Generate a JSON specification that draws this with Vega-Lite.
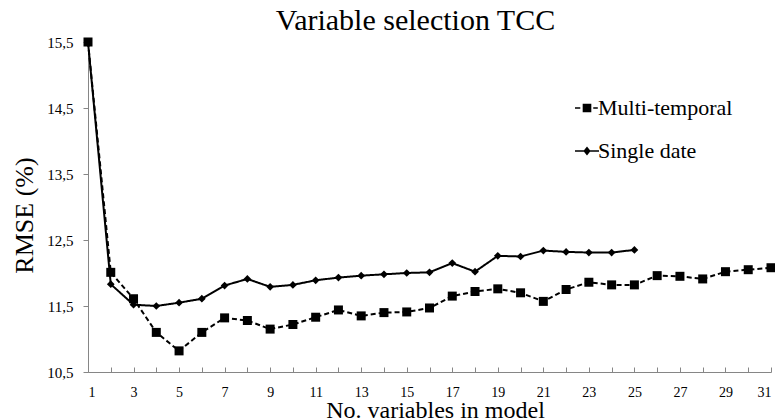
{
  "$schema": "https://vega.github.io/schema/vega-lite/v6.json",
  "width": 683,
  "height": 330,
  "autosize": {"type": "none"},
  "padding": {"left": 88, "top": 42, "right": 4, "bottom": 48},
  "background": "white",
  "title": {"text": "Variable selection TCC", "font": "Liberation Serif", "fontSize": 30, "fontWeight": "normal", "color": "black", "anchor": "middle", "dx": -14, "dy": 8, "offset": 7},
  "config": {
    "view": {"stroke": null},
    "axis": {"grid": false, "labelFont": "Liberation Serif", "titleFont": "Liberation Serif", "labelColor": "black", "titleColor": "black", "domainColor": "#868686", "tickColor": "#868686", "titleFontWeight": "normal"}
  },
  "data": {"values": [
    {"n": 1, "series": "Multi-temporal", "rmse": 15.5},
    {"n": 2, "series": "Multi-temporal", "rmse": 12.01},
    {"n": 3, "series": "Multi-temporal", "rmse": 11.61},
    {"n": 4, "series": "Multi-temporal", "rmse": 11.10},
    {"n": 5, "series": "Multi-temporal", "rmse": 10.82},
    {"n": 6, "series": "Multi-temporal", "rmse": 11.10},
    {"n": 7, "series": "Multi-temporal", "rmse": 11.32},
    {"n": 8, "series": "Multi-temporal", "rmse": 11.28},
    {"n": 9, "series": "Multi-temporal", "rmse": 11.15},
    {"n": 10, "series": "Multi-temporal", "rmse": 11.22},
    {"n": 11, "series": "Multi-temporal", "rmse": 11.33},
    {"n": 12, "series": "Multi-temporal", "rmse": 11.44},
    {"n": 13, "series": "Multi-temporal", "rmse": 11.35},
    {"n": 14, "series": "Multi-temporal", "rmse": 11.40},
    {"n": 15, "series": "Multi-temporal", "rmse": 11.41},
    {"n": 16, "series": "Multi-temporal", "rmse": 11.47},
    {"n": 17, "series": "Multi-temporal", "rmse": 11.65},
    {"n": 18, "series": "Multi-temporal", "rmse": 11.72},
    {"n": 19, "series": "Multi-temporal", "rmse": 11.76},
    {"n": 20, "series": "Multi-temporal", "rmse": 11.70},
    {"n": 21, "series": "Multi-temporal", "rmse": 11.57},
    {"n": 22, "series": "Multi-temporal", "rmse": 11.75},
    {"n": 23, "series": "Multi-temporal", "rmse": 11.86},
    {"n": 24, "series": "Multi-temporal", "rmse": 11.82},
    {"n": 25, "series": "Multi-temporal", "rmse": 11.82},
    {"n": 26, "series": "Multi-temporal", "rmse": 11.96},
    {"n": 27, "series": "Multi-temporal", "rmse": 11.95},
    {"n": 28, "series": "Multi-temporal", "rmse": 11.91},
    {"n": 29, "series": "Multi-temporal", "rmse": 12.02},
    {"n": 30, "series": "Multi-temporal", "rmse": 12.05},
    {"n": 31, "series": "Multi-temporal", "rmse": 12.08},
    {"n": 1, "series": "Single date", "rmse": 15.5},
    {"n": 2, "series": "Single date", "rmse": 11.83},
    {"n": 3, "series": "Single date", "rmse": 11.52},
    {"n": 4, "series": "Single date", "rmse": 11.50},
    {"n": 5, "series": "Single date", "rmse": 11.55},
    {"n": 6, "series": "Single date", "rmse": 11.61},
    {"n": 7, "series": "Single date", "rmse": 11.81},
    {"n": 8, "series": "Single date", "rmse": 11.91},
    {"n": 9, "series": "Single date", "rmse": 11.79},
    {"n": 10, "series": "Single date", "rmse": 11.82},
    {"n": 11, "series": "Single date", "rmse": 11.89},
    {"n": 12, "series": "Single date", "rmse": 11.93},
    {"n": 13, "series": "Single date", "rmse": 11.96},
    {"n": 14, "series": "Single date", "rmse": 11.98},
    {"n": 15, "series": "Single date", "rmse": 12.00},
    {"n": 16, "series": "Single date", "rmse": 12.01},
    {"n": 17, "series": "Single date", "rmse": 12.15},
    {"n": 18, "series": "Single date", "rmse": 12.02},
    {"n": 19, "series": "Single date", "rmse": 12.26},
    {"n": 20, "series": "Single date", "rmse": 12.25},
    {"n": 21, "series": "Single date", "rmse": 12.34},
    {"n": 22, "series": "Single date", "rmse": 12.32},
    {"n": 23, "series": "Single date", "rmse": 12.31},
    {"n": 24, "series": "Single date", "rmse": 12.31},
    {"n": 25, "series": "Single date", "rmse": 12.35}
  ]},
  "encoding": {
    "x": {
      "field": "n", "type": "quantitative",
      "scale": {"domain": [1, 31], "nice": false, "zero": false},
      "axis": {
        "title": "No. variables in model",
        "values": [1,2,3,4,5,6,7,8,9,10,11,12,13,14,15,16,17,18,19,20,21,22,23,24,25,26,27,28,29,30,31],
        "labelExpr": "datum.value % 2 == 1 ? datum.label : ''",
        "tickSize": -5,
        "labelFontSize": 14,
        "labelPadding": 18,
        "titleFontSize": 24,
        "titleX": 347,
        "titleY": 45,
        "titleBaseline": "alphabetic",
        "titleAlign": "center"
      }
    },
    "y": {
      "field": "rmse", "type": "quantitative",
      "scale": {"domain": [10.5, 15.5], "nice": false, "zero": false},
      "axis": {
        "title": "RMSE (%)",
        "values": [10.5, 11.5, 12.5, 13.5, 14.5, 15.5],
        "labelExpr": "replace(format(datum.value, '.1f'), '.', ',')",
        "tickSize": 5,
        "labelFontSize": 15,
        "labelPadding": 10,
        "titleFontSize": 26,
        "titleX": -56,
        "titleY": 173,
        "titleAngle": 270,
        "titleBaseline": "alphabetic",
        "titleAlign": "center"
      }
    }
  },
  "layer": [
    {
      "mark": {"type": "line", "color": "black", "strokeWidth": 2},
      "encoding": {
        "detail": {"field": "series", "type": "nominal"},
        "strokeDash": {"condition": {"test": "datum.series === 'Single date'", "value": [1, 0]}, "value": [5, 3]}
      }
    },
    {
      "mark": {"type": "point", "filled": true, "color": "black", "opacity": 1},
      "encoding": {
        "shape": {"condition": {"test": "datum.series === 'Single date'", "value": "diamond"}, "value": "square"},
        "size": {"condition": {"test": "datum.series === 'Single date'", "value": 60}, "value": 81}
      }
    },
    {
      "mark": {"type": "point", "filled": true, "color": "black", "opacity": 0},
      "encoding": {
        "shape": {
          "field": "series", "type": "nominal",
          "scale": {"domain": ["Multi-temporal", "Single date"], "range": ["M-1,-0.06H-0.56V0.06H-1Z M-0.36,-0.36H0.36V0.36H-0.36Z M0.52,-0.06H0.9V0.06H0.52Z", "M-1,-0.07H1V0.07H-1Z M0,-0.38L0.3,0L0,0.38L-0.3,0Z"]},
          "legend": {
            "orient": "none", "legendX": 487, "legendY": 54, "title": null,
            "labelFont": "Liberation Serif", "labelFontSize": 22, "labelColor": "black",
            "symbolSize": 576, "symbolOpacity": 1, "symbolFillColor": "black", "symbolStrokeWidth": 0,
            "rowPadding": 20, "labelOffset": -1
          }
        }
      }
    }
  ]
}
